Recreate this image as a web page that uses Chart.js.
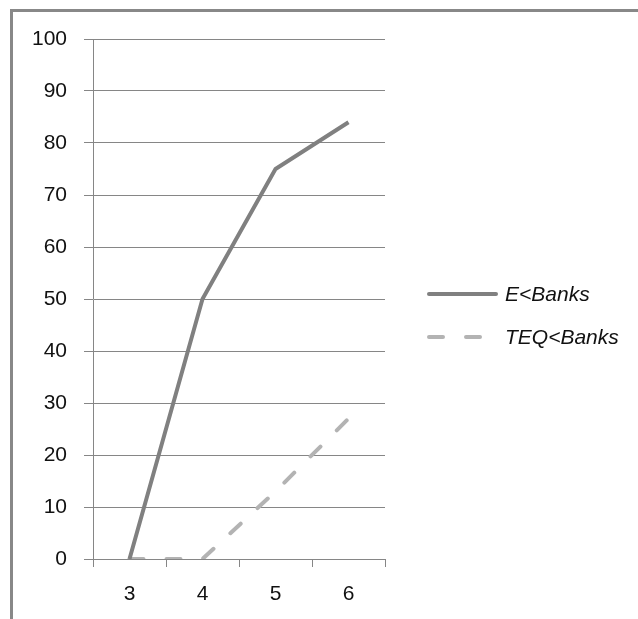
<!DOCTYPE html>
<html lang="en">
<head>
  <meta charset="UTF-8">
  <title>E&lt;Banks vs TEQ&lt;Banks</title>
  <script src="https://cdn.jsdelivr.net/npm/chart.js"></script>
  <style>
    html, body { margin: 0; padding: 0; background: #fff; }
    #wrap { position: relative; width: 638px; height: 619px; overflow: hidden; }
    #frame { position: absolute; left: 10px; top: 9px; width: 640px; height: 620px; border-top: 3px solid #888; border-left: 3px solid #888; }
    #chart { position: absolute; left: 0; top: 0; }
  </style>
</head>
<body>
<div id="wrap">
  <div id="frame"></div>
  <canvas id="chart" width="638" height="619"></canvas>
</div>
<script>
const categories = ['3', '4', '5', '6'];
const eBanks = [0, 50, 75, 84];
const teqBanks = [0, 0, 13, 27];
const seriesNames = ['E<Banks', 'TEQ<Banks'];

const FONT = '"Liberation Sans", Arial, sans-serif';

// legend drawn on the right like the original (line sample + italic label)
const sideLegend = {
  id: 'sideLegend',
  afterDraw(chart) {
    const ctx = chart.ctx;
    const x0 = chart.chartArea.right + 42;
    const rows = [294, 337];
    chart.data.datasets.forEach((ds, i) => {
      const y = rows[i];
      ctx.save();
      ctx.strokeStyle = ds.borderColor;
      ctx.lineWidth = ds.borderWidth;
      ctx.lineCap = 'round';
      ctx.setLineDash(ds.borderDash || []);
      ctx.beginPath();
      ctx.moveTo(x0 + 2, y);
      ctx.lineTo(x0 + 69, y);
      ctx.stroke();
      ctx.setLineDash([]);
      ctx.fillStyle = '#111';
      ctx.font = 'italic 21px ' + FONT;
      ctx.textBaseline = 'middle';
      ctx.fillText(ds.label, x0 + 78, y + 1);
      ctx.restore();
    });
  }
};

new Chart(document.getElementById('chart'), {
  type: 'line',
  data: {
    labels: categories,
    datasets: [
      { label: seriesNames[0], data: eBanks, borderColor: '#808080', borderWidth: 4, pointRadius: 0, tension: 0, borderJoinStyle: 'round' },
      { label: seriesNames[1], data: teqBanks, borderColor: '#b3b3b3', borderWidth: 4, pointRadius: 0, tension: 0, borderDash: [14, 23], borderCapStyle: 'round' }
    ]
  },
  options: {
    responsive: false,
    animation: false,
    layout: { padding: { left: 0, top: 39, right: 253, bottom: 0 } },
    plugins: { legend: { display: false }, tooltip: { enabled: false } },
    scales: {
      x: {
        offset: true,
        grid: { drawOnChartArea: false, color: '#868686', tickLength: 8, offset: true },
        border: { color: '#868686', width: 1 },
        ticks: { color: '#111', font: { family: FONT, size: 21 }, padding: 15 },
        afterFit: s => { s.height = 60; }
      },
      y: {
        min: 0,
        max: 100,
        ticks: { stepSize: 10, color: '#111', font: { family: FONT, size: 21 }, padding: 17 },
        grid: { color: '#868686', tickLength: 9 },
        border: { color: '#868686', width: 1 },
        afterFit: s => { s.width = 93; }
      }
    }
  },
  plugins: [sideLegend]
});
</script>
</body>
</html>
